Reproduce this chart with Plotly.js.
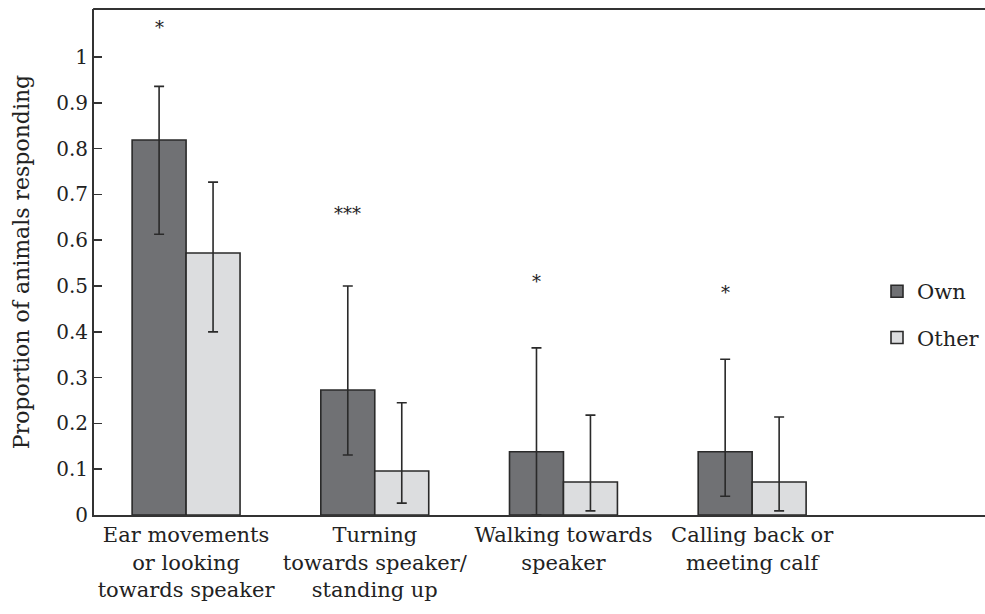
<!DOCTYPE html>
<html><head><meta charset="utf-8">
<script src="https://cdn.plot.ly/plotly-3.0.1.min.js"></script>
<style>html,body{margin:0;padding:0;background:#fff;overflow:hidden}</style>
</head><body><div id="chart" style="width:985px;height:614px"></div>
<script>
const categories = ['ear', 'turn', 'walk', 'call'];
const categoryLabels = ['Ear movements<br>or looking<br>towards speaker', 'Turning<br>towards speaker/<br>standing up', 'Walking towards<br>speaker', 'Calling back or<br>meeting calf'];
const ownValues = [0.819, 0.273, 0.138, 0.138];
const ownUpper = [0.936, 0.500, 0.365, 0.340];
const ownLower = [0.613, 0.131, 0.000, 0.041];
const otherValues = [0.572, 0.096, 0.072, 0.072];
const otherUpper = [0.727, 0.245, 0.218, 0.214];
const otherLower = [0.400, 0.026, 0.009, 0.009];
const sigLabels = ['*', '***', '*', '*'];
const sigHeights = [1.072, 0.664, 0.517, 0.493];
const yTickVals = [0, 0.1, 0.2, 0.3, 0.4, 0.5, 0.6, 0.7, 0.8, 0.9, 1];
const yTickText = ['0', '0.1', '0.2', '0.3', '0.4', '0.5', '0.6', '0.7', '0.8', '0.9', '1'];

const FONT = 'DejaVu Serif, serif';
const INK = '#222';

function errs(vals, up, lo) {
  return {
    type: 'data', symmetric: false,
    array: vals.map((v, i) => up[i] - v),
    arrayminus: vals.map((v, i) => v - lo[i]),
    color: '#2a2a2a', thickness: 1.6, width: 5
  };
}

const traces = [
  {type: 'bar', name: 'Own', x: categories, y: ownValues, legendgroup: 'a',
   marker: {color: '#707174', line: {color: '#2a2a2a', width: 1.6}},
   error_y: errs(ownValues, ownUpper, ownLower), hoverinfo: 'none'},
  {type: 'bar', name: 'Other', x: categories, y: otherValues, legendgroup: 'b',
   marker: {color: '#dcdddf', line: {color: '#2a2a2a', width: 1.6}},
   error_y: errs(otherValues, otherUpper, otherLower), hoverinfo: 'none'}
];

const annotations = categories.map((c, i) => ({
  x: c, y: sigHeights[i], xref: 'x', yref: 'y', text: sigLabels[i],
  showarrow: false, xshift: -27, yanchor: 'middle', yshift: -3,
  font: {family: FONT, size: 18, color: INK}
}));

const layout = {
  width: 985, height: 614,
  margin: {l: 94, r: 0, t: 9, b: 99, autoexpand: false},
  paper_bgcolor: '#fff', plot_bgcolor: '#fff',
  barmode: 'group', bargap: 0.428, bargroupgap: 0,
  font: {family: FONT, color: INK, size: 20},
  showlegend: true,
  legend: {x: 1, xanchor: 'right', y: 0.482, yanchor: 'top', traceorder: 'grouped', borderwidth: 0,
           tracegroupgap: 16, font: {family: FONT, size: 21, color: INK}, bgcolor: 'rgba(0,0,0,0)'},
  xaxis: {type: 'category', range: [-0.488, 4.234], tickvals: categories, ticktext: categoryLabels,
          showline: true, linecolor: '#333', linewidth: 2, mirror: false, ticks: '',
          showgrid: false, zeroline: false, tickfont: {family: FONT, size: 21, color: INK}, fixedrange: true},
  yaxis: {range: [0, 1.105], tickvals: yTickVals, ticktext: yTickText, ticks: 'inside', ticklen: 8,
          tickwidth: 1.6, tickcolor: '#333', showline: true, linecolor: '#333', linewidth: 2, mirror: false,
          showgrid: false, zeroline: false, ticklabelstandoff: 0,
          tickfont: {family: FONT, size: 20, color: INK},
          title: {text: 'Proportion of animals responding', font: {family: FONT, size: 22, color: INK}, standoff: 20},
          fixedrange: true},
  shapes: [{type: 'line', xref: 'paper', yref: 'paper', x0: -0.001, x1: 1.01, y0: 1, y1: 1,
            line: {color: '#333', width: 2}}],
  annotations: annotations
};

Plotly.newPlot('chart', traces, layout, {displayModeBar: false, staticPlot: true});
</script></body></html>
